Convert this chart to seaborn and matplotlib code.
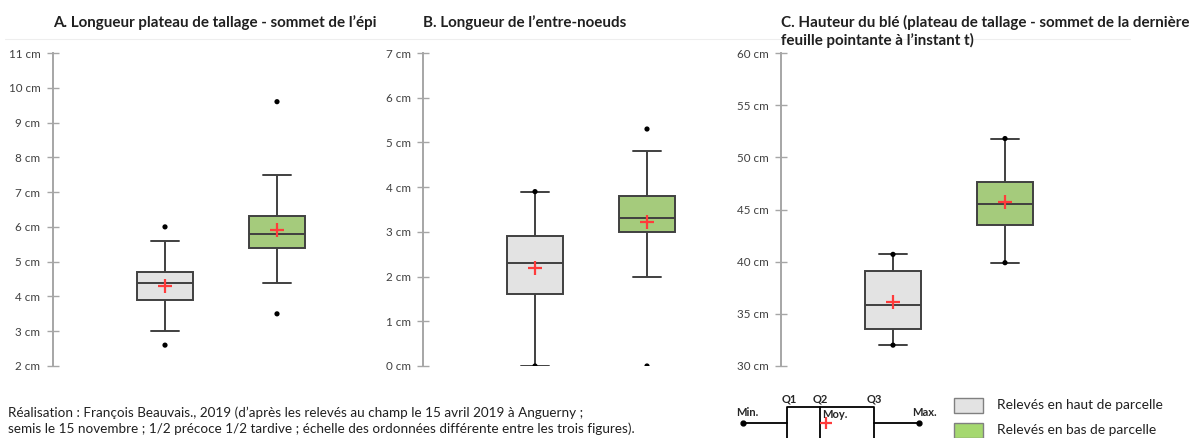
import numpy as np
import pandas as pd
import matplotlib
matplotlib.use("Agg")
import matplotlib.pyplot as plt
from matplotlib.patches import Rectangle
from matplotlib.lines import Line2D
import seaborn as sns

# ---------------------------
# Data
# ---------------------------
groupes = ["Relevés en haut de parcelle", "Relevés en bas de parcelle"]

# A. Longueur plateau de tallage - sommet de l'épi (cm)
a_whislo = [3.0, 4.4]
a_q1 = [3.9, 5.4]
a_med = [4.4, 5.8]
a_q3 = [4.7, 6.3]
a_whishi = [5.6, 7.5]
a_mean = [4.3, 5.9]
a_min = [2.6, 3.5]
a_max = [6.0, 9.6]

# B. Longueur de l'entre-noeuds (cm)
b_whislo = [0.0, 2.0]
b_q1 = [1.6, 3.0]
b_med = [2.3, 3.3]
b_q3 = [2.9, 3.8]
b_whishi = [3.9, 4.8]
b_mean = [2.2, 3.23]
b_min = [0.0, 0.0]
b_max = [3.9, 5.3]

# C. Hauteur du blé (cm)
c_whislo = [32.0, 39.9]
c_q1 = [33.5, 43.5]
c_med = [35.8, 45.5]
c_q3 = [39.1, 47.6]
c_whishi = [40.7, 51.8]
c_mean = [36.1, 45.7]
c_min = [32.0, 39.9]
c_max = [40.7, 51.8]

titres = [
    "A. Longueur plateau de tallage - sommet de l\u2019épi",
    "B. Longueur de l\u2019entre-noeuds",
    "C. Hauteur du blé (plateau de tallage - sommet de la dernière\nfeuille pointante à l\u2019instant t)",
]
y_ticks = [np.arange(2, 12, 1), np.arange(0, 8, 1), np.arange(30, 65, 5)]

couleurs = {groupes[0]: "#e3e3e3", groupes[1]: "#a5d86f"}
edge = "#404040"
axis_grey = "#a6a6a6"

sns.set_theme(style="white")
plt.rcParams["font.family"] = ["Lato", "DejaVu Sans"]

fig = plt.figure(figsize=(11.98, 4.38), dpi=100)

panels = [
    (a_whislo, a_q1, a_med, a_q3, a_whishi, a_mean, a_min, a_max),
    (b_whislo, b_q1, b_med, b_q3, b_whishi, b_mean, b_min, b_max),
    (c_whislo, c_q1, c_med, c_q3, c_whishi, c_mean, c_min, c_max),
]
lefts = [53, 423, 781]
W, H = 1198, 438

for i, (wlo, q1, med, q3, whi, mean, mn, mx) in enumerate(panels):
    ax = fig.add_axes([lefts[i] / W, 72 / H, 336 / W, 313 / H])
    # five-number summary per group -> seaborn computes the same quartiles
    rows = []
    for g, vals in zip(groupes, zip(wlo, q1, med, q3, whi)):
        for v in vals:
            rows.append({"groupe": g, "valeur": v})
    df = pd.DataFrame(rows)
    sns.boxplot(data=df, x="groupe", y="valeur", hue="groupe", order=groupes,
                palette=couleurs, whis=(0, 100), width=0.5, showfliers=False,
                linecolor=edge, linewidth=1.4, legend=False, ax=ax)
    pos = np.arange(len(groupes))
    # min / max points
    sns.scatterplot(x=np.concatenate([pos, pos]), y=mn + mx, color="black",
                    s=14, edgecolor="none", zorder=5, ax=ax)
    # means
    sns.scatterplot(x=pos, y=mean, marker="+", color="#ff3b3b", s=110,
                    linewidth=1.6, zorder=6, ax=ax)

    ax.set_xlim(-1, 2)
    ax.set_ylim(y_ticks[i][0], y_ticks[i][-1])
    ax.set_yticks(y_ticks[i])
    ax.set_yticklabels([f"{t} cm" for t in y_ticks[i]])
    ax.set_xticks([])
    ax.set_xlabel("")
    ax.set_ylabel("")
    for s in ["top", "right", "bottom"]:
        ax.spines[s].set_visible(False)
    ax.spines["left"].set_color(axis_grey)
    ax.spines["left"].set_linewidth(1.4)
    ax.tick_params(axis="y", left=True, direction="inout", length=8, width=1,
                   color=axis_grey, labelsize=8.4, labelcolor="#404040", pad=5)
    ax.patch.set_alpha(0)

    fig.text(lefts[i] / W, 1 - 15 / H, titres[i], ha="left", va="top",
             fontsize=10.9, fontweight="bold", color="#202020", linespacing=1.2)

# faint separator under titles
fig.add_artist(Line2D([5 / W, 1130 / W], [1 - 39 / H, 1 - 39 / H],
                      color="#eeeeee", linewidth=0.8))

# caption
fig.text(8 / W, 1 - 421 / H,
         "Réalisation : François Beauvais., 2019 (d\u2019après les relevés au champ le 15 avril 2019 à Anguerny ;\n"
         "semis le 15 novembre ; 1/2 précoce 1/2 tardive ; échelle des ordonnées différente entre les trois figures).",
         ha="left", va="center", fontsize=9.7, color="#202020", linespacing=1.3)

# key: box schematic + legend swatches (overlay in pixel units)
ov = fig.add_axes([0, 0, 1, 1], zorder=-1)
ov.set_xlim(0, W)
ov.set_ylim(H, 0)
ov.axis("off")
lw = 1.3
ov.plot([743, 787], [423, 423], color="black", lw=lw)
ov.plot([874, 919], [423, 423], color="black", lw=lw)
ov.plot([787, 787, 874, 874], [445, 407, 407, 445], color="black", lw=lw)
ov.plot([820, 820], [407, 445], color="black", lw=lw)
ov.plot([743, 919], [423, 423], linestyle="none", marker="o", ms=3.5, color="black")
ov.plot([826], [423], marker="+", ms=9, mew=1.6, color="#ff3b3b")
for txt, x, y in [("Min.", 747, 413), ("Q1", 789, 399), ("Q2", 820, 399),
                  ("Q3", 874, 399), ("Max.", 924, 413)]:
    ov.text(x, y, txt, ha="center", va="center", fontsize=8, fontweight="bold")
ov.text(822, 414, "Moy.", ha="left", va="center", fontsize=8, fontweight="bold")

for g, y0, yc in zip(groupes, [398, 423], [405, 430]):
    ov.add_patch(Rectangle((954, y0), 29, 15, facecolor=couleurs[g],
                           edgecolor="#808080", lw=1))
    ov.text(997, yc, g, ha="left", va="center", fontsize=9.9, color="#202020")

fig.savefig("out.png", dpi=100)
